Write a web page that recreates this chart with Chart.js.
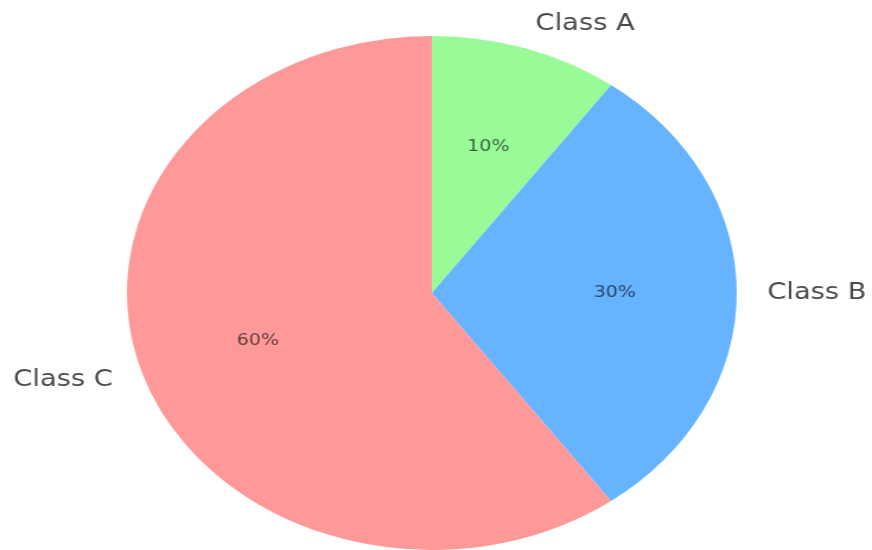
<!DOCTYPE html>
<html>
<head>
<meta charset="utf-8">
<script src="https://cdn.jsdelivr.net/npm/chart.js@4.4.1/dist/chart.umd.min.js"></script>
<style>
  html, body { margin: 0; padding: 0; background: #ffffff; overflow: hidden; }
  /* the figure is drawn narrower and stretched horizontally to 872px */
  #wrap { width: 735px; height: 550px; transform: scaleX(1.1864); transform-origin: 0 0; }
</style>
</head>
<body>
<div id="wrap"><canvas id="pie"></canvas></div>
<script>
const categories = ['Class A', 'Class B', 'Class C'];
const shares = [10, 30, 60];
const sliceColors = ['#98fb98', '#66b3ff', '#ff9999'];

const FONT = '"DejaVu Sans", "Liberation Sans", sans-serif';

// Category names outside each slice, percentages inside (matplotlib-style placement)
const sliceLabels = {
  id: 'sliceLabels',
  afterDatasetsDraw(chart) {
    const ctx = chart.ctx;
    const meta = chart.getDatasetMeta(0);
    const total = shares.reduce((a, b) => a + b, 0);
    ctx.save();
    meta.data.forEach((arc, i) => {
      const { x, y, startAngle, endAngle, outerRadius } = arc.getProps(['x', 'y', 'startAngle', 'endAngle', 'outerRadius'], true);
      const mid = (startAngle + endAngle) / 2;
      const c = Math.cos(mid), s = Math.sin(mid);

      // outer label at 1.1 radius
      ctx.font = '23px ' + FONT;
      ctx.fillStyle = '#4a4a4a';
      ctx.textBaseline = 'middle';
      ctx.textAlign = c > 1e-6 ? 'left' : (c < -1e-6 ? 'right' : 'center');
      ctx.fillText(categories[i], x + c * outerRadius * 1.1, y + s * outerRadius * 1.1);

      // percentage at 0.6 radius
      ctx.font = '16px ' + FONT;
      ctx.fillStyle = 'rgba(0,0,0,0.62)';
      ctx.textAlign = 'center';
      const pct = (shares[i] / total * 100).toFixed(0) + '%';
      ctx.fillText(pct, x + c * outerRadius * 0.6, y + s * outerRadius * 0.6);
    });
    ctx.restore();
  }
};

new Chart(document.getElementById('pie'), {
  type: 'pie',
  data: {
    labels: categories,
    datasets: [{
      data: shares,
      backgroundColor: sliceColors,
      borderWidth: 0,
      hoverOffset: 0
    }]
  },
  options: {
    responsive: true,
    maintainAspectRatio: false,
    animation: false,
    events: [],
    layout: { padding: { top: 36, bottom: 0, left: 100, right: 107 } },
    plugins: {
      legend: { display: false },
      tooltip: { enabled: false },
      title: { display: false }
    }
  },
  plugins: [sliceLabels]
});
</script>
</body>
</html>
